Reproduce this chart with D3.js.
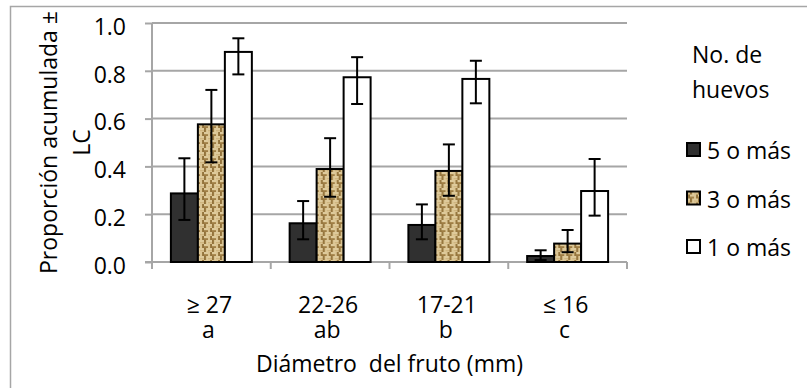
<!DOCTYPE html>
<html>
<head>
<meta charset="utf-8">
<script src="https://cdn.jsdelivr.net/npm/d3@7"></script>
<style>
  body { margin: 0; background: #fff; }
  svg { font-family: "Open Sans", sans-serif; }
</style>
</head>
<body>
<svg id="chart" width="807" height="388"></svg>
<script>
// data
var categories = ["≥ 27", "22-26", "17-21", "≤ 16"];
var groupLetters = ["a", "ab", "b", "c"];
var seriesNames = ["5 o más", "3 o más", "1 o más"];
var cinco = [0.287, 0.162, 0.155, 0.025];
var tres = [0.576, 0.389, 0.381, 0.077];
var uno = [0.879, 0.773, 0.766, 0.297];
var cincoHi = [0.434, 0.255, 0.241, 0.049];
var cincoLo = [0.176, 0.095, 0.095, 0.008];
var tresHi = [0.720, 0.518, 0.492, 0.134];
var tresLo = [0.417, 0.273, 0.277, 0.041];
var unoHi = [0.936, 0.857, 0.842, 0.431];
var unoLo = [0.785, 0.661, 0.664, 0.194];
var yTicks = [0, 0.2, 0.4, 0.6, 0.8, 1.0];

var values = [cinco, tres, uno];
var his = [cincoHi, tresHi, unoHi];
var los = [cincoLo, tresLo, unoLo];

var fs = 23;
var svg = d3.select("#chart");

// burlap-ish texture for the middle series
var defs = svg.append("defs");
var pat = defs.append("pattern")
    .attr("id", "burlap")
    .attr("patternUnits", "userSpaceOnUse")
    .attr("width", 8).attr("height", 8);
pat.append("rect").attr("width", 8).attr("height", 8).attr("fill", "#c2a46a");
// woven blocks
pat.append("rect").attr("x", 0).attr("y", 0.3).attr("width", 4).attr("height", 1.4).attr("fill", "#eadbb0");
pat.append("rect").attr("x", 0).attr("y", 2.5).attr("width", 4).attr("height", 1.4).attr("fill", "#dcc694");
pat.append("rect").attr("x", 4.3).attr("y", 0).attr("width", 1.3).attr("height", 4).attr("fill", "#7f5e28");
pat.append("rect").attr("x", 6.4).attr("y", 0).attr("width", 1.4).attr("height", 4).attr("fill", "#e6d4a6");
pat.append("rect").attr("x", 0.3).attr("y", 4).attr("width", 1.4).attr("height", 4).attr("fill", "#e6d4a6");
pat.append("rect").attr("x", 2.4).attr("y", 4).attr("width", 1.3).attr("height", 4).attr("fill", "#7f5e28");
pat.append("rect").attr("x", 4).attr("y", 4.3).attr("width", 4).attr("height", 1.4).attr("fill", "#eadbb0");
pat.append("rect").attr("x", 4).attr("y", 6.5).attr("width", 4).attr("height", 1.3).attr("fill", "#95743c");

var fills = ["#303030", "url(#burlap)", "#ffffff"];

// chart frame
svg.append("rect")
    .attr("x", 10.5).attr("y", 6.5)
    .attr("width", 820).attr("height", 400)
    .attr("fill", "none")
    .attr("stroke", "#a6a6a6")
    .attr("stroke-width", 1.5);

var x0 = d3.scaleBand().domain(categories).range([152, 627]);
var x1 = d3.scaleBand().domain(seriesNames).range([0, x0.bandwidth()]).paddingOuter(0.7);
var y = d3.scaleLinear().domain([0, 1]).range([262, 23]);

// gridlines
svg.append("g")
    .selectAll("line")
    .data(yTicks.slice(1))
    .enter().append("line")
    .attr("x1", 152).attr("x2", 627)
    .attr("y1", function(d){ return y(d); })
    .attr("y2", function(d){ return y(d); })
    .attr("stroke", "#a6a6a6")
    .attr("stroke-width", 2);

// y axis
var yaxis = d3.axisLeft(y)
    .tickValues(yTicks)
    .tickSize(7)
    .tickPadding(19)
    .tickFormat(d3.format(".1f"));

var gy = svg.append("g")
    .attr("transform", "translate(152,0)")
    .call(yaxis);
gy.select(".domain").remove();
gy.selectAll(".tick line").attr("stroke", "#a6a6a6").attr("stroke-width", 2);
gy.selectAll(".tick text")
    .attr("font-family", "Open Sans")
    .attr("font-size", fs)
    .attr("fill", "#000")
    .attr("y", 4);

svg.append("line")
    .attr("x1", 152).attr("x2", 152)
    .attr("y1", y(1)).attr("y2", y(0) + 7)
    .attr("stroke", "#a6a6a6").attr("stroke-width", 2);

// x axis line and ticks at category boundaries
svg.append("line")
    .attr("x1", 145).attr("x2", 627)
    .attr("y1", y(0)).attr("y2", y(0))
    .attr("stroke", "#a6a6a6").attr("stroke-width", 2);

var bounds = categories.map(function(c){ return x0(c); }).concat([x0.range()[1]]);
svg.append("g").selectAll("line")
    .data(bounds)
    .enter().append("line")
    .attr("x1", function(d){ return d; })
    .attr("x2", function(d){ return d; })
    .attr("y1", y(0)).attr("y2", y(0) + 7)
    .attr("stroke", "#a6a6a6").attr("stroke-width", 2);

// bars
var groups = svg.append("g").selectAll("g")
    .data(categories)
    .enter().append("g")
    .attr("transform", function(d){ return "translate(" + x0(d) + ",0)"; });

seriesNames.forEach(function(s, si){
    groups.append("rect")
        .attr("x", x1(s))
        .attr("y", function(d, i){ return y(values[si][i]); })
        .attr("width", x1.bandwidth())
        .attr("height", function(d, i){ return y(0) - y(values[si][i]); })
        .attr("fill", fills[si])
        .attr("stroke", "#000")
        .attr("stroke-width", 2);
});

// error bars
seriesNames.forEach(function(s, si){
    var cx = x1(s) + x1.bandwidth() / 2;
    groups.append("line")
        .attr("x1", cx).attr("x2", cx)
        .attr("y1", function(d, i){ return y(his[si][i]); })
        .attr("y2", function(d, i){ return y(los[si][i]); })
        .attr("stroke", "#000").attr("stroke-width", 2);
    groups.append("line")
        .attr("x1", cx - 6).attr("x2", cx + 6)
        .attr("y1", function(d, i){ return y(his[si][i]); })
        .attr("y2", function(d, i){ return y(his[si][i]); })
        .attr("stroke", "#000").attr("stroke-width", 2);
    groups.append("line")
        .attr("x1", cx - 6).attr("x2", cx + 6)
        .attr("y1", function(d, i){ return y(los[si][i]); })
        .attr("y2", function(d, i){ return y(los[si][i]); })
        .attr("stroke", "#000").attr("stroke-width", 2);
});

// category labels (two lines in one text)
var cl = groups.append("text")
    .attr("y", y(0) + 51)
    .attr("text-anchor", "middle")
    .attr("font-size", fs);
cl.append("tspan")
    .attr("x", x0.bandwidth() / 2 - 2)
    .text(function(d){ return d; });
cl.append("tspan")
    .attr("x", x0.bandwidth() / 2 - 3)
    .attr("dy", 25)
    .text(function(d, i){ return groupLetters[i]; });

// axis titles
svg.append("text")
    .attr("x", x0.range()[0] + (x0.range()[1] - x0.range()[0]) / 2)
    .attr("y", 372)
    .attr("text-anchor", "middle")
    .attr("font-size", fs)
    .style("white-space", "pre")
    .text("Diámetro  del fruto (mm)");

var yt = svg.append("text")
    .attr("transform", "translate(57," + (y(0) + y(1)) / 2 + ") rotate(-90)")
    .attr("text-anchor", "middle")
    .attr("font-size", fs);
yt.append("tspan").attr("x", 0).attr("dy", 0).text("Proporción acumulada ±");
yt.append("tspan").attr("x", 0).attr("dy", 33).text("LC");

// legend
var legend = svg.append("g").attr("transform", "translate(686,0)");
var lt = legend.append("text").attr("y", 63).attr("font-size", fs);
lt.append("tspan").attr("x", 6).text("No. de");
lt.append("tspan").attr("x", 6).attr("dy", 35).text("huevos");

var items = legend.selectAll(".item")
    .data(seriesNames)
    .enter().append("g")
    .attr("class", "item")
    .attr("transform", function(d, i){ return "translate(0," + (150 + i * 48.5) + ")"; });
items.append("rect")
    .attr("x", 1).attr("y", -7)
    .attr("width", 13).attr("height", 13)
    .attr("fill", function(d, i){ return fills[i]; })
    .attr("stroke", "#000")
    .attr("stroke-width", 2);
items.append("text")
    .attr("x", 21).attr("y", 9)
    .attr("font-size", fs)
    .text(function(d){ return d; });
</script>
</body>
</html>
